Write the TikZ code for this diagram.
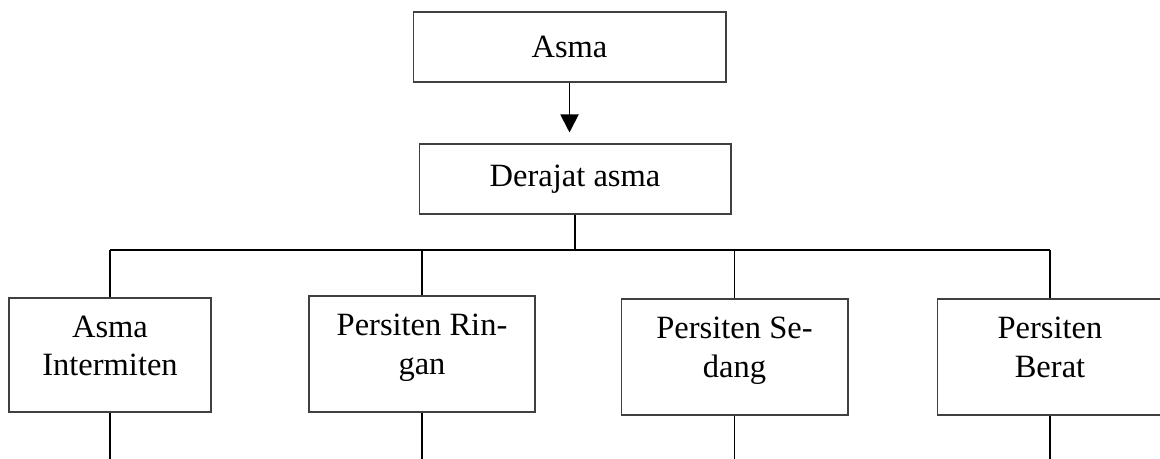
\documentclass[tikz,border=0pt]{standalone}
\usepackage{fontspec}
\setmainfont{Liberation Serif}
\usetikzlibrary{positioning,arrows.meta}

\begin{document}
\begin{tikzpicture}[x=0.02cm,y=-0.02cm,
	font=\fontsize{18.5}{22}\selectfont,
	kotak/.style={draw=black!75,line width=0.6pt,inner sep=0pt},
	tulisan/.style={align=center,inner sep=0pt},
	garis/.style={line width=1.1pt}]
	
	\useasboundingbox (0,0) rectangle (1160,459);
	
	\node[kotak,minimum width=6.26cm,minimum height=1.4cm] (asma) at(569.5,47) {Asma};
	\node[kotak,minimum width=6.24cm,minimum height=1.4cm] (derajat) at(575,179) {Derajat asma};
	
	\node[kotak,minimum width=4.04cm,minimum height=2.28cm] (intermiten) at(110,355) {};
	\node[kotak,minimum width=4.52cm,minimum height=2.32cm] (ringan) at(422,354) {};
	\node[kotak,minimum width=4.54cm,minimum height=2.32cm] (sedang) at(734.5,357) {};
	\node[kotak,minimum width=4.52cm,minimum height=2.32cm] (berat) at(1050,357) {};
	
	\node[tulisan,below=0.36cm of intermiten.north] (t-intermiten) {Asma\\Intermiten};
	\node[tulisan,below=0.36cm of ringan.north] (t-ringan) {Persiten Rin-\\gan};
	\node[tulisan,below=0.36cm of sedang.north] (t-sedang) {Persiten Se-\\dang};
	\node[tulisan,below=0.36cm of berat.north] (t-berat) {Persiten\\Berat};
	
	\coordinate (rel) at(0,250);
	\coordinate (bawah) at(0,459);
	
	\draw[garis,-{Triangle[width=0.36cm,length=0.36cm]},shorten >=0.22cm] (asma.south) -- (asma.south |- derajat.north);
	\draw[garis] (derajat.south) -- (derajat.south |- rel);
	\draw[garis] (intermiten.north |- rel) -- (berat.north |- rel);
	
	\foreach \k in {intermiten,ringan,sedang,berat} {
		\draw[garis] (\k.north |- rel) -- (\k.north);
		\draw[garis] (\k.south) -- (\k.south |- bawah);
	}
	
\end{tikzpicture}
\end{document}
